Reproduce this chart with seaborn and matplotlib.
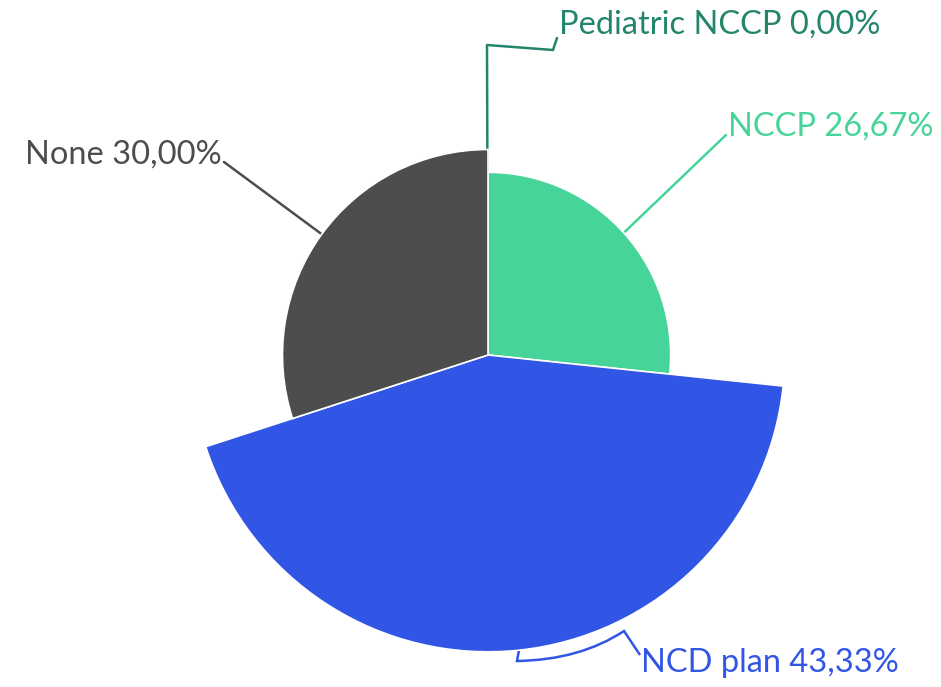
import numpy as np
import seaborn as sns
import matplotlib.pyplot as plt
from matplotlib.path import Path
from matplotlib.patches import PathPatch

labels = ["Pediatric NCCP", "NCCP", "NCD plan", "None"]
shares = [0.00, 26.67, 43.33, 30.00]
share_text = ["0,00%", "26,67%", "43,33%", "30,00%"]
colors = ["#23856B", "#47D498", "#3155E4", "#4D4D4D"]

sns.set_theme(style="white")
plt.rcParams["font.family"] = ["Lato", "DejaVu Sans"]

W, H = 941, 687
fig = plt.figure(figsize=(W / 100, H / 100), dpi=100)

# rose chart: angle and radius both follow the share
cx, cy, rpx, rmax = 488, 355, 342.5, 50
ax = fig.add_axes([(cx - rpx) / W, (H - cy - rpx) / H, 2 * rpx / W, 2 * rpx / H],
                  projection="polar")
ax.set_theta_zero_location("N")
ax.set_theta_direction(-1)

vals = np.array(shares)
widths = vals / vals.sum() * 2 * np.pi
starts = np.concatenate([[0], np.cumsum(widths)[:-1]])
ax.bar(starts, vals, width=widths, align="edge", color=colors,
       edgecolor="white", linewidth=1.2, zorder=2)
ax.set_ylim(0, rmax)
ax.set_axis_off()


def fig_xy(x, y):
    return (x / W, 1 - y / H)


def anchor(i):
    th = starts[i] + widths[i] / 2
    px = ax.transData.transform((th, vals[i]))
    return fig.transFigure.inverted().transform(px)


# label lines, in pixel positions of the reference
routes = {
    0: [(487, 45), (553, 50), (557, 38)],
    1: [(726, 135)],
    3: [(224, 162)],
}
for i, pts in routes.items():
    p0 = anchor(i)
    xs = [p0[0]] + [fig_xy(*p)[0] for p in pts]
    ys = [p0[1]] + [fig_xy(*p)[1] for p in pts]
    ax.plot(xs, ys, color=colors[i], lw=1.8, transform=fig.transFigure,
            clip_on=False, zorder=1)

p0 = anchor(2)
verts = [tuple(p0), fig_xy(517, 661), fig_xy(580, 660), fig_xy(624, 631), fig_xy(640, 655)]
codes = [Path.MOVETO, Path.LINETO, Path.CURVE3, Path.CURVE3, Path.LINETO]
ax.add_patch(PathPatch(Path(verts, codes), fill=False, edgecolor=colors[2], lw=1.8,
                       transform=fig.transFigure, clip_on=False, zorder=1))

text_pos = {
    0: (559, 25, "left"),
    1: (728, 127, "left"),
    2: (641, 663, "left"),
    3: (222, 155, "right"),
}
for i, (x, y, ha) in text_pos.items():
    fx, fy = fig_xy(x, y)
    fig.text(fx, fy, f"{labels[i]} {share_text[i]}", color=colors[i],
             fontsize=23.5, ha=ha, va="center")

fig.savefig("out.png", dpi=100)
